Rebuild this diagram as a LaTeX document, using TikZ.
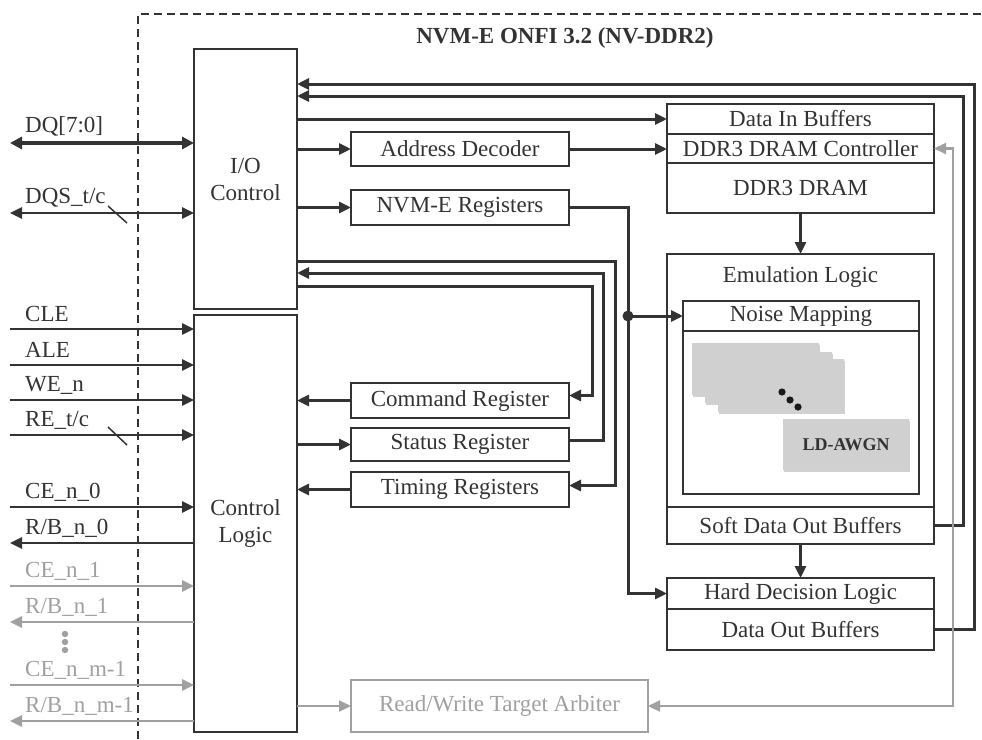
\documentclass[tikz,border=0pt]{standalone}
\usepackage{fontspec}
\setmainfont{Liberation Serif}
\usetikzlibrary{arrows.meta,calc}
\definecolor{dk}{HTML}{333333}
\definecolor{gr}{HTML}{A0A0A0}
\definecolor{cardc}{HTML}{D0D0D0}
\tikzset{
  txt/.style={font=\fontsize{23}{27}\selectfont, text=dk},
  box/.style={txt, draw=dk, line width=2.2pt, fill=white, inner sep=0pt, outer sep=0pt, align=center},
  gbox/.style={box, draw=gr, text=gr},
  tip/.style={-{Triangle[length=12pt,width=11pt]}},
  arr/.style={draw=dk, line width=3pt, tip},
  garr/.style={draw=gr, line width=2.2pt, -{Triangle[length=12pt,width=11pt]}, color=gr},
  sig/.style={draw=dk, line width=2.6pt, -{Triangle[length=12pt,width=11pt]}},
  gsig/.style={draw=gr, line width=2.6pt, -{Triangle[length=12pt,width=11pt]}, color=gr},
  lbl/.style={txt, anchor=west, inner sep=0pt},
  glbl/.style={lbl, text=gr},
}
\begin{document}
\begin{tikzpicture}[x=1pt,y=-1pt]
\useasboundingbox (0,0) rectangle (982,739);
% boundary
\draw[dk, line width=1.8pt, dash pattern=on 8pt off 5pt] (138,739) -- (138,14) -- (982,14);
\node[txt, font=\fontsize{23}{27}\selectfont\bfseries] (title) at (565,38) {NVM-E ONFI 3.2 (NV-DDR2)};

% main blocks
\node[box, minimum width=103, minimum height=260] (io) at (245.5,179) {I/O\\Control};
\node[box, minimum width=103, minimum height=417] (cl) at (245.5,523.5) {Control\\Logic};

\node[box, minimum width=218, minimum height=34] (addr) at (460,149) {Address Decoder};
\node[box, minimum width=218, minimum height=35] (nvme) at (460,207.5) {NVM-E Registers};
\node[box, minimum width=218, minimum height=35] (cmd) at (460,400.5) {Command Register};
\node[box, minimum width=218, minimum height=33] (stat) at (460,444.5) {Status Register};
\node[box, minimum width=218, minimum height=35] (tim) at (460,489.5) {Timing Registers};
\node[gbox, minimum width=297, minimum height=52] (arb) at (499.5,706) {Read/Write Target Arbiter};

\node[box, minimum width=267, minimum height=30] (din) at (800.5,119) {Data In Buffers};
\node[box, minimum width=267, minimum height=29] (ctrl) at (800.5,148.5) {DDR3 DRAM Controller};
\node[box, minimum width=267, minimum height=50] (dram) at (800.5,188) {DDR3 DRAM};

\node[box, minimum width=267, minimum height=253] (emu) at (800.5,380.5) {};
\node[txt] (emut) at (800.5,277) {Emulation Logic};
\node[box, minimum width=236, minimum height=30] (nmh) at (801,316) {Noise Mapping};
\node[box, minimum width=236, minimum height=163] (nmb) at (801,412.5) {};
\node[box, minimum width=267, minimum height=37] (soft) at (800.5,525.5) {Soft Data Out Buffers};
\node[box, minimum width=267, minimum height=31] (hard) at (800.5,593.5) {Hard Decision Logic};
\node[box, minimum width=267, minimum height=41] (dout) at (800.5,629.5) {Data Out Buffers};

% noise mapping cards
\foreach \xa/\ya/\xb/\yb in {692/343/819/395, 705/352/832/403, 718/359/844/412, 783/419/909/470}{
  \fill[black!18] (\xa+1,\ya+2) rectangle (\xb+1,\yb+2);
  \fill[cardc] (\xa,\ya) rectangle (\xb,\yb);
}
\node[font=\fontsize{18}{20}\selectfont\bfseries, text=dk] (ld) at (846,444.5) {LD-AWGN};
\fill[black!90] (782,392) circle (3.6) (790,400) circle (3.6) (798,407) circle (3.6);

% top return lines
\coordinate (o1) at (974,84);
\coordinate (o2) at (963,96);
\draw[arr] (dout.east) -| (o1) -- (io.east |- o1);
\draw[arr] (soft.east) -| (o2) -- (io.east |- o2);

% IO to right side
\draw[arr] (io.east |- din.west) -- (din.west);
\draw[arr] (io.east |- addr.west) -- (addr.west);
\draw[arr] (addr.east) -- (ctrl.west |- addr.east);
\draw[arr] (io.east |- nvme.west) -- (nvme.west);

% NVM-E registers to noise mapping / hard decision
\coordinate (j) at (628,316);
\draw[arr] (nvme.east) -| (j) |- (hard.west);
\fill[dk] (j) circle (5.5);
\draw[arr] (j) -- (nmh.west);

% internal vertical flows
\draw[arr] (dram.south) -- (emu.north);
\draw[arr] (soft.south) -- (hard.north);

% register loops
\coordinate (t1) at (615,261);
\coordinate (t2) at (603,273);
\coordinate (t3) at (592,286);
\draw[arr] (io.east |- t1) -- (t1) |- ($(tim.east)+(0,-4)$);
\draw[arr] ($(stat.east)+(0,-4)$) -| (t2) -- (io.east |- t2);
\draw[arr] (io.east |- t3) -- (t3) |- ($(cmd.east)+(0,-5)$);
\draw[arr] (cmd.west) -- (cl.east |- cmd.west);
\draw[arr] (cl.east |- stat.west) -- (stat.west);
\draw[arr] (tim.west) -- (cl.east |- tim.west);

% gray arbiter connections
\draw[garr] (cl.east |- arb.west) -- (arb.west);
\coordinate (gx) at (953,148.5);
\draw[draw=gr, color=gr, line width=2.2pt, {Triangle[length=12pt,width=11pt]}-{Triangle[length=12pt,width=11pt]}] (arb.east) -| (gx) -- (ctrl.east);

% left signals
\coordinate (s1) at (10,143);
\draw[draw=dk, color=dk, line width=4.5pt, {Triangle[length=12pt,width=12pt]}-{Triangle[length=12pt,width=12pt]}] (s1) -- (io.west |- s1);
\node[lbl] (l1) at (25,126) {DQ[7:0]};
\coordinate (s2) at (10,213);
\draw[draw=dk, color=dk, line width=2.6pt, {Triangle[length=12pt,width=11pt]}-{Triangle[length=12pt,width=11pt]}] (s2) -- (io.west |- s2);
\node[lbl] (l2) at (25,198) {DQS\_t/c};
\draw[dk, line width=1.5pt] (108,206) -- (127,223);

\coordinate (s3) at (10,329);
\draw[sig, color=dk] (s3) -- (cl.west |- s3);
\node[lbl] (l3) at (25,314) {CLE};
\coordinate (s4) at (10,365);
\draw[sig, color=dk] (s4) -- (cl.west |- s4);
\node[lbl] (l4) at (25,350) {ALE};
\coordinate (s5) at (10,400);
\draw[sig, color=dk] (s5) -- (cl.west |- s5);
\node[lbl] (l5) at (25,385) {WE\_n};
\coordinate (s6) at (10,435);
\draw[sig, color=dk] (s6) -- (cl.west |- s6);
\node[lbl] (l6) at (25,420) {RE\_t/c};
\draw[dk, line width=1.5pt] (108,427) -- (127,445);

\coordinate (s7) at (10,507);
\draw[sig, color=dk] (s7) -- (cl.west |- s7);
\node[lbl] (l7) at (25,492) {CE\_n\_0};
\coordinate (s8) at (10,543);
\draw[sig, color=dk] (cl.west |- s8) -- (s8);
\node[lbl] (l8) at (25,528) {R/B\_n\_0};

\coordinate (s9) at (10,586);
\draw[gsig] (s9) -- (cl.west |- s9);
\node[glbl] (l9) at (25,571) {CE\_n\_1};
\coordinate (s10) at (10,622);
\draw[gsig] (cl.west |- s10) -- (s10);
\node[glbl] (l10) at (25,607) {R/B\_n\_1};
\fill[gr] (65,634) circle (3.2) (65,642) circle (3.2) (65,650) circle (3.2);
\coordinate (s11) at (10,685);
\draw[gsig] (s11) -- (cl.west |- s11);
\node[glbl] (l11) at (25,670) {CE\_n\_m-1};
\coordinate (s12) at (10,721);
\draw[gsig] (cl.west |- s12) -- (s12);
\node[glbl] (l12) at (25,706) {R/B\_n\_m-1};
\end{tikzpicture}
\end{document}
